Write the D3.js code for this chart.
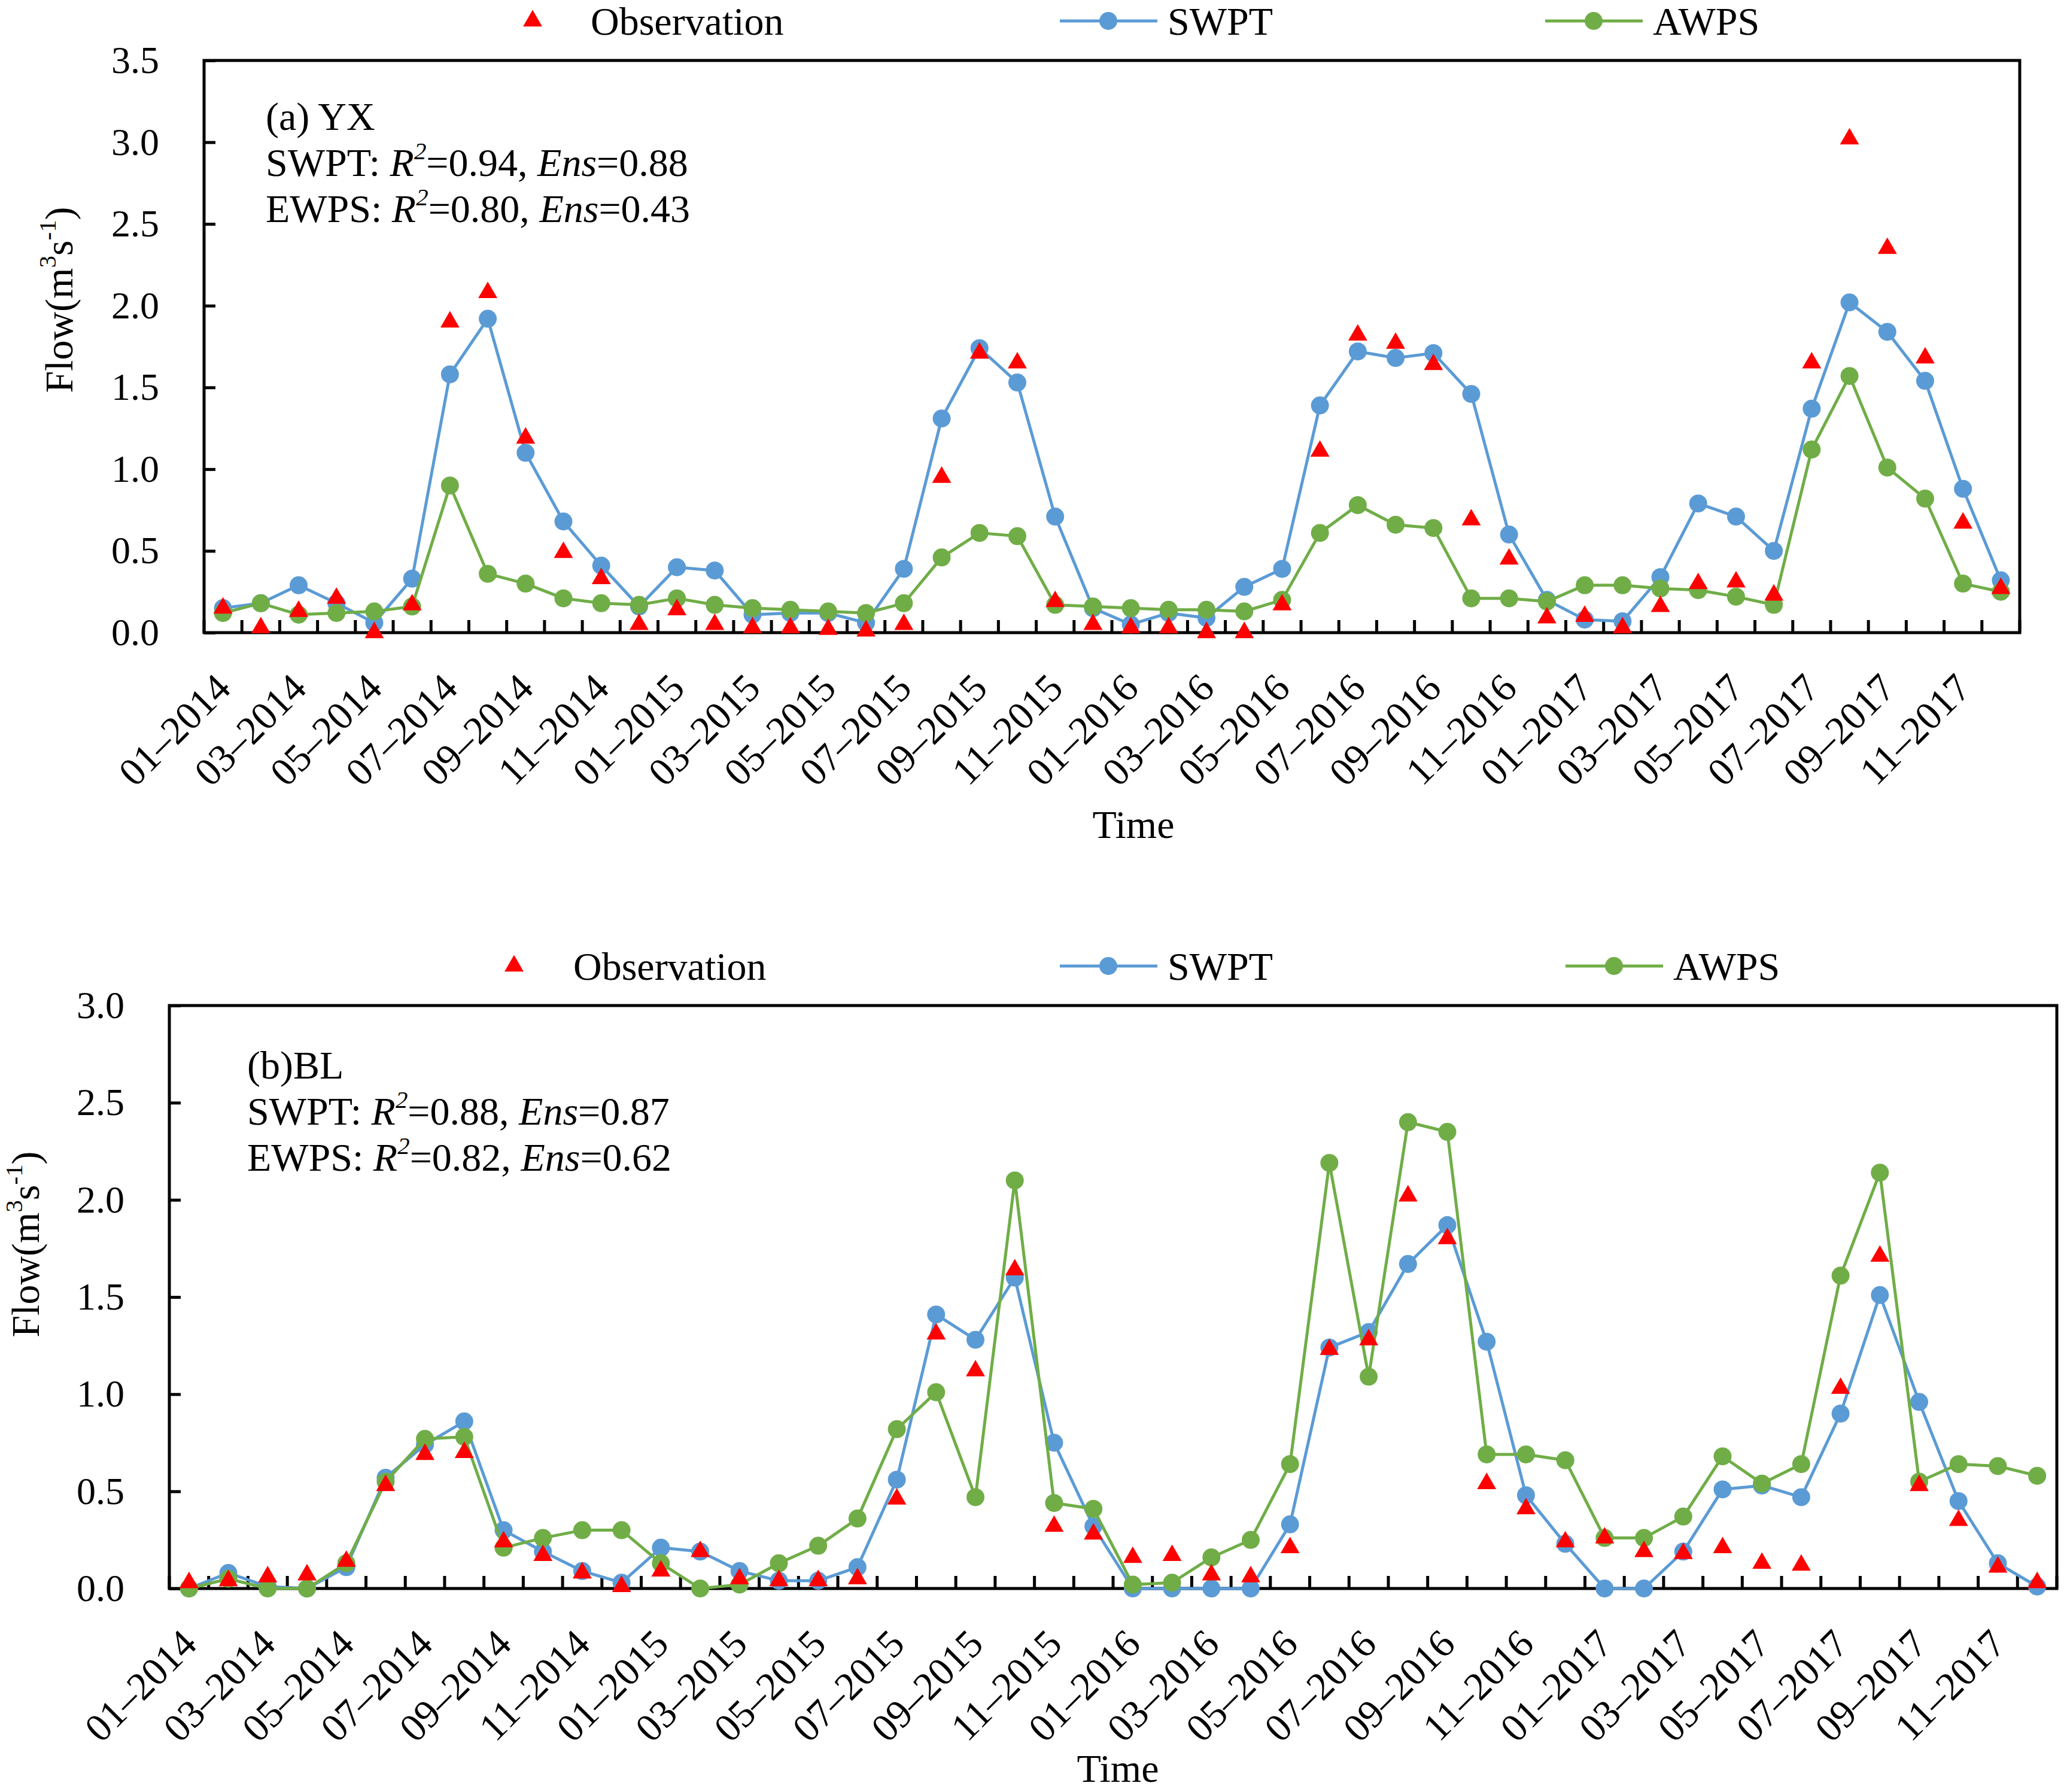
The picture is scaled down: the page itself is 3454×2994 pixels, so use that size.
<!DOCTYPE html>
<html>
<head>
<meta charset="utf-8">
<script src="https://cdn.jsdelivr.net/npm/d3@7"></script>
<style>
  body { margin: 0; background: #fff; }
  svg text { font-family: 'Times New Roman', 'Liberation Serif', serif; fill: #000; }
</style>
</head>
<body>
<div id="chart"></div>
<script>
// ------------------------------------------------------------------
// Data (monthly flow, m3/s)

const months = [
  '01–2014', '02–2014', '03–2014', '04–2014', '05–2014', '06–2014',
  '07–2014', '08–2014', '09–2014', '10–2014', '11–2014', '12–2014',
  '01–2015', '02–2015', '03–2015', '04–2015', '05–2015', '06–2015',
  '07–2015', '08–2015', '09–2015', '10–2015', '11–2015', '12–2015',
  '01–2016', '02–2016', '03–2016', '04–2016', '05–2016', '06–2016',
  '07–2016', '08–2016', '09–2016', '10–2016', '11–2016', '12–2016',
  '01–2017', '02–2017', '03–2017', '04–2017', '05–2017', '06–2017',
  '07–2017', '08–2017', '09–2017', '10–2017', '11–2017', '12–2017'
];

const yTicksYX = [0, 0.5, 1.0, 1.5, 2.0, 2.5, 3.0, 3.5];
const yTicksBL = [0, 0.5, 1.0, 1.5, 2.0, 2.5, 3.0];

const obsYX = [
  0.15, 0.03, 0.13, 0.21, 0.00, 0.17, 1.90, 2.08, 1.19, 0.49, 0.33, 0.05,
  0.14, 0.05, 0.03, 0.03, 0.02, 0.01, 0.05, 0.95, 1.71, 1.65, 0.19, 0.05,
  0.03, 0.03, 0.00, 0.00, 0.17, 1.11, 1.82, 1.77, 1.64, 0.69, 0.45, 0.09,
  0.10, 0.03, 0.16, 0.30, 0.31, 0.23, 1.65, 3.02, 2.35, 1.68, 0.67, 0.27
];
const swptYX = [
  0.15, 0.18, 0.29, 0.18, 0.06, 0.33, 1.58, 1.92, 1.10, 0.68, 0.41, 0.16,
  0.40, 0.38, 0.11, 0.12, 0.12, 0.06, 0.39, 1.31, 1.74, 1.53, 0.71, 0.15,
  0.05, 0.12, 0.09, 0.28, 0.39, 1.39, 1.72, 1.68, 1.71, 1.46, 0.60, 0.20,
  0.08, 0.07, 0.34, 0.79, 0.71, 0.50, 1.37, 2.02, 1.84, 1.54, 0.88, 0.32
];
const awpsYX = [
  0.12, 0.18, 0.11, 0.12, 0.13, 0.16, 0.90, 0.36, 0.30, 0.21, 0.18, 0.17,
  0.21, 0.17, 0.15, 0.14, 0.13, 0.12, 0.18, 0.46, 0.61, 0.59, 0.17, 0.16,
  0.15, 0.14, 0.14, 0.13, 0.20, 0.61, 0.78, 0.66, 0.64, 0.21, 0.21, 0.19,
  0.29, 0.29, 0.27, 0.26, 0.22, 0.17, 1.12, 1.57, 1.01, 0.82, 0.30, 0.25
];

const obsBL = [
  0.03, 0.04, 0.06, 0.07, 0.14, 0.53, 0.69, 0.70, 0.24, 0.17, 0.08, 0.01,
  0.09, 0.19, 0.05, 0.04, 0.04, 0.05, 0.46, 1.31, 1.12, 1.64, 0.32, 0.28,
  0.16, 0.17, 0.07, 0.06, 0.21, 1.23, 1.28, 2.02, 1.80, 0.54, 0.41, 0.24,
  0.26, 0.19, 0.18, 0.21, 0.13, 0.12, 1.03, 1.71, 0.53, 0.35, 0.11, 0.03
];
const swptBL = [
  0.00, 0.08, 0.01, 0.00, 0.11, 0.57, 0.74, 0.86, 0.30, 0.19, 0.09, 0.03,
  0.21, 0.19, 0.09, 0.04, 0.04, 0.11, 0.56, 1.41, 1.28, 1.60, 0.75, 0.32,
  0.00, 0.00, 0.00, 0.00, 0.33, 1.24, 1.32, 1.67, 1.87, 1.27, 0.48, 0.23,
  0.00, 0.00, 0.19, 0.51, 0.53, 0.47, 0.90, 1.51, 0.96, 0.45, 0.13, 0.01
];
const awpsBL = [
  0.00, 0.05, 0.00, 0.00, 0.13, 0.55, 0.77, 0.78, 0.21, 0.26, 0.30, 0.30,
  0.13, 0.00, 0.02, 0.13, 0.22, 0.36, 0.82, 1.01, 0.47, 2.10, 0.44, 0.41,
  0.02, 0.03, 0.16, 0.25, 0.64, 2.19, 1.09, 2.40, 2.35, 0.69, 0.69, 0.66,
  0.26, 0.26, 0.37, 0.68, 0.54, 0.64, 1.61, 2.14, 0.55, 0.64, 0.63, 0.58
];

const seriesNames = ['Observation', 'SWPT', 'AWPS'];
const statsYX = [['SWPT', '0.94', '0.88'], ['EWPS', '0.80', '0.43']];
const statsBL = [['SWPT', '0.88', '0.87'], ['EWPS', '0.82', '0.62']];

// ------------------------------------------------------------------
// Layout

const W = 3454, H = 2994;
const BLUE = '#5B9BD5', GREEN = '#70AD47', RED = '#FF0000';

const svg = d3.select('#chart').append('svg')
  .attr('width', W)
  .attr('height', H)
  .attr('viewBox', `0 0 ${W} ${H}`);

// write a text made of plain / italic / superscript pieces
function richText(g, parts, size) {
  let shift = 0;
  parts.forEach(p => {
    const t = g.append('tspan').text(p.t);
    if (p.i) t.attr('font-style', 'italic');
    const want = p.sup ? -size * 0.42 : 0;
    if (want !== shift) {
      t.attr('dy', want - shift);
      shift = want;
    }
    if (p.sup) t.attr('font-size', size * 0.62);
  });
}

function drawPanel(cfg) {
  const g = svg.append('g');

  const x = d3.scaleBand()
    .domain(months)
    .range([cfg.left, cfg.right]);
  const y = d3.scaleLinear()
    .domain([0, cfg.yMax])
    .range([cfg.bottom, cfg.top]);
  const cx = d => x(d) + x.bandwidth() / 2;

  // y axis, ticks pointing inward
  const yAxis = d3.axisLeft(y)
    .tickValues(cfg.yTicks)
    .tickSize(-19)
    .tickPadding(75)
    .tickFormat(d3.format('.1f'));
  const ya = g.append('g')
    .attr('transform', `translate(${cfg.left},0)`)
    .call(yAxis);
  ya.select('.domain').remove();
  ya.selectAll('line').attr('stroke', '#000').attr('stroke-width', 5);
  ya.selectAll('text')
    .attr('font-size', 64)
    .attr('font-family', "'Times New Roman', 'Liberation Serif', serif")
    .attr('fill', '#000');

  // x ticks on band edges, inward
  const edges = months.map(m => x(m)).concat([x.range()[1]]);
  g.append('g').selectAll('line')
    .data(edges)
    .enter().append('line')
    .attr('x1', d => d).attr('x2', d => d)
    .attr('y1', cfg.bottom).attr('y2', cfg.bottom - 21)
    .attr('stroke', '#000')
    .attr('stroke-width', 5);

  // every other month label, rotated
  g.append('g').selectAll('text')
    .data(months.filter((m, i) => i % 2 === 0))
    .enter().append('text')
    .attr('transform', d => `translate(${cx(d)},${cfg.bottom + 80}) rotate(-45)`)
    .attr('text-anchor', 'end')
    .attr('dy', '0.35em')
    .attr('font-size', 66)
    .text(d => d);

  // frame
  g.append('rect')
    .attr('x', cfg.left)
    .attr('y', cfg.top)
    .attr('width', cfg.right - cfg.left)
    .attr('height', cfg.bottom - cfg.top)
    .attr('fill', 'none')
    .attr('stroke', '#000')
    .attr('stroke-width', 5);

  // series
  const line = d3.line()
    .x((d, i) => cx(months[i]))
    .y(d => y(d));

  [[cfg.swpt, BLUE], [cfg.awps, GREEN]].forEach(([vals, col]) => {
    g.append('path')
      .datum(vals)
      .attr('d', line)
      .attr('fill', 'none')
      .attr('stroke', col)
      .attr('stroke-width', 5)
      .attr('stroke-linejoin', 'round');
    g.append('g').selectAll('circle')
      .data(vals)
      .enter().append('circle')
      .attr('cx', (d, i) => cx(months[i]))
      .attr('cy', d => y(d))
      .attr('r', 15)
      .attr('fill', col);
  });

  const tri = d3.symbol().type(d3.symbolTriangle).size(440);
  g.append('g').selectAll('path')
    .data(cfg.obs)
    .enter().append('path')
    .attr('d', tri)
    .attr('transform', (d, i) => `translate(${cx(months[i])},${y(d)})`)
    .attr('fill', RED);

  // axis titles
  const yt = g.append('text')
    .attr('transform', `translate(${cfg.yTitle[0]},${cfg.yTitle[1]}) rotate(-90)`)
    .attr('text-anchor', 'middle')
    .attr('font-size', 66);
  richText(yt, [{t: 'Flow(m'}, {t: '3', sup: true}, {t: 's'}, {t: '-1', sup: true}, {t: ')'}], 66);

  g.append('text')
    .attr('x', cfg.xTitle[0])
    .attr('y', cfg.xTitle[1])
    .attr('text-anchor', 'middle')
    .attr('font-size', 66)
    .text('Time');

  // panel label and fit statistics
  g.append('text')
    .attr('x', cfg.note[0])
    .attr('y', cfg.note[1])
    .attr('font-size', 66)
    .text(cfg.label);
  cfg.stats.forEach((s, k) => {
    const t = g.append('text')
      .attr('x', cfg.note[0])
      .attr('y', cfg.note[1] + 77 * (k + 1))
      .attr('font-size', 66);
    richText(t, [
      {t: s[0] + ': '}, {t: 'R', i: true}, {t: '2', i: true, sup: true},
      {t: '=' + s[1] + ', '}, {t: 'Ens', i: true}, {t: '=' + s[2]}
    ], 66);
  });

  // legend
  const ly = cfg.legendY;
  const lg = g.append('g');
  lg.append('path')
    .attr('d', tri)
    .attr('transform', `translate(${cfg.legend[0]},${ly})`)
    .attr('fill', RED);
  lg.append('text')
    .attr('x', cfg.legend[1]).attr('y', ly).attr('dy', '0.35em')
    .attr('font-size', 66)
    .text(seriesNames[0]);

  [[cfg.legend[2], BLUE, seriesNames[1]], [cfg.legend[3], GREEN, seriesNames[2]]].forEach(([lx, col, name]) => {
    lg.append('line')
      .attr('x1', lx).attr('x2', lx + 163)
      .attr('y1', ly).attr('y2', ly)
      .attr('stroke', col)
      .attr('stroke-width', 5);
    lg.append('circle')
      .attr('cx', lx + 81).attr('cy', ly)
      .attr('r', 15)
      .attr('fill', col);
    lg.append('text')
      .attr('x', lx + 180).attr('y', ly).attr('dy', '0.35em')
      .attr('font-size', 66)
      .text(name);
  });
}

drawPanel({
  left: 341, right: 3375, top: 101, bottom: 1057,
  yMax: 3.5, yTicks: yTicksYX,
  obs: obsYX, swpt: swptYX, awps: awpsYX,
  yTitle: [121, 501], xTitle: [1894, 1400],
  note: [444, 217], label: '(a) YX', stats: statsYX,
  legendY: 35, legend: [890, 987, 1771, 2582]
});

drawPanel({
  left: 283, right: 3437, top: 1680, bottom: 2654,
  yMax: 3.0, yTicks: yTicksBL,
  obs: obsBL, swpt: swptBL, awps: awpsBL,
  yTitle: [65, 2079], xTitle: [1868, 2977],
  note: [413, 1802], label: '(b)BL', stats: statsBL,
  legendY: 1614, legend: [859, 958, 1771, 2616]
});
</script>
</body>
</html>
